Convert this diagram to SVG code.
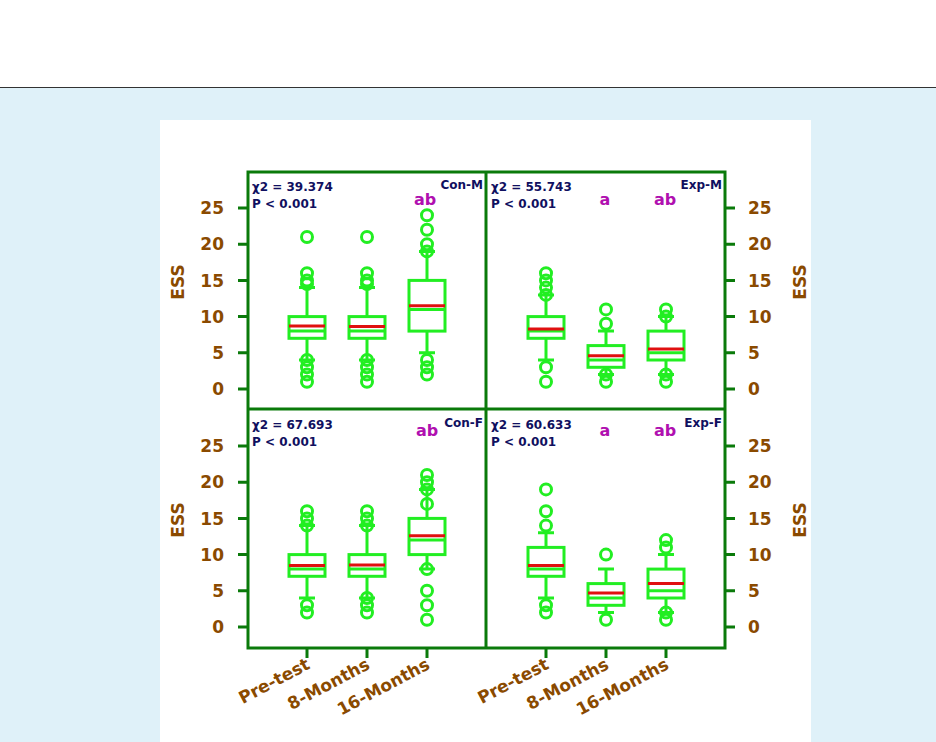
<svg xmlns="http://www.w3.org/2000/svg" width="936" height="742" viewBox="0 0 936 742">
<style>
.fr{fill:none;stroke:#0a7a0a;stroke-width:3}
.bx{fill:none;stroke:#22ee22;stroke-width:3}
.mn{stroke:#e01010;stroke-width:3}
.o{fill:none;stroke:#22ee22;stroke-width:3}
.tk{font-family:"DejaVu Sans",sans-serif;font-weight:bold;font-size:17px;fill:#8a4a00}
.st{font-family:"DejaVu Sans",sans-serif;font-weight:bold;font-size:12px;fill:#101060}
.lt{font-family:"DejaVu Sans",sans-serif;font-weight:bold;font-size:16px;fill:#b010b0}
</style>
<rect width="936" height="742" fill="#fff"/>
<rect y="87" width="936" height="655" fill="#dff1f9"/>
<line x1="0" y1="87.5" x2="936" y2="87.5" stroke="#333" stroke-width="1"/>
<rect x="160" y="120" width="651" height="622" fill="#fff"/>
<g id="frame" class="fr">
<rect x="248" y="172" width="477" height="476"/>
<line x1="486" y1="172" x2="486" y2="648"/><line x1="248" y1="409" x2="725" y2="409"/>
<path d="M238 389H248M238 352.8H248M238 316.6H248M238 280.4H248M238 244.2H248M238 208H248M725 389H735M725 352.8H735M725 316.6H735M725 280.4H735M725 244.2H735M725 208H735M238 627H248M238 590.8H248M238 554.6H248M238 518.4H248M238 482.2H248M238 446H248M725 627H735M725 590.8H735M725 554.6H735M725 518.4H735M725 482.2H735M725 446H735M307 648V658M367 648V658M427 648V658M546 648V658M606 648V658M666 648V658"/>
</g>
<g id="axes">
<g class="tk" text-anchor="end"><text x="224" y="395">0</text><text x="224" y="359">5</text><text x="224" y="323">10</text><text x="224" y="287">15</text><text x="224" y="250">20</text><text x="224" y="214">25</text><text x="224" y="633">0</text><text x="224" y="597">5</text><text x="224" y="561">10</text><text x="224" y="525">15</text><text x="224" y="488">20</text><text x="224" y="452">25</text></g>
<g class="tk" text-anchor="start"><text x="748" y="395">0</text><text x="748" y="359">5</text><text x="748" y="323">10</text><text x="748" y="287">15</text><text x="748" y="250">20</text><text x="748" y="214">25</text><text x="748" y="633">0</text><text x="748" y="597">5</text><text x="748" y="561">10</text><text x="748" y="525">15</text><text x="748" y="488">20</text><text x="748" y="452">25</text></g>
<g class="tk" text-anchor="middle"><text transform="translate(184,282) rotate(-90)">ESS</text><text transform="translate(184,520) rotate(-90)">ESS</text><text transform="translate(806,282) rotate(-90)">ESS</text><text transform="translate(806,520) rotate(-90)">ESS</text></g>
<g class="tk" text-anchor="end"><text transform="translate(311,668) rotate(-28)">Pre-test</text><text transform="translate(371,668) rotate(-28)">8-Months</text><text transform="translate(431,668) rotate(-28)">16-Months</text><text transform="translate(550,668) rotate(-28)">Pre-test</text><text transform="translate(610,668) rotate(-28)">8-Months</text><text transform="translate(670,668) rotate(-28)">16-Months</text></g>
</g>
<g id="labels">
<text class="st" x="252" y="191">χ2 = 39.374</text><text class="st" x="252" y="208">P &lt; 0.001</text><text class="st" x="483" y="189" text-anchor="end">Con-M</text><text class="lt" x="425" y="205" text-anchor="middle">ab</text>
<text class="st" x="491" y="191">χ2 = 55.743</text><text class="st" x="491" y="208">P &lt; 0.001</text><text class="st" x="722" y="189" text-anchor="end">Exp-M</text><text class="lt" x="605" y="205" text-anchor="middle">a</text><text class="lt" x="665" y="205" text-anchor="middle">ab</text>
<text class="st" x="252" y="429">χ2 = 67.693</text><text class="st" x="252" y="446">P &lt; 0.001</text><text class="st" x="483" y="427" text-anchor="end">Con-F</text><text class="lt" x="427" y="436" text-anchor="middle">ab</text>
<text class="st" x="491" y="429">χ2 = 60.633</text><text class="st" x="491" y="446">P &lt; 0.001</text><text class="st" x="722" y="427" text-anchor="end">Exp-F</text><text class="lt" x="605" y="436" text-anchor="middle">a</text><text class="lt" x="665" y="436" text-anchor="middle">ab</text>
</g>
<g id="boxes">
<g id="conm">
<path class="bx" d="M307 360V338.3M307 316.6V287.6M299 360H315M299 287.6H315M367 360V338.3M367 316.6V287.6M359 360H375M359 287.6H375M427 352.8V331.1M427 280.4V251.4M419 352.8H435M419 251.4H435"/>
<rect class="bx" x="289" y="316.6" width="36" height="21.7"/><line class="bx" x1="289" x2="325" y1="331.1" y2="331.1"/><line class="mn" x1="289" x2="325" y1="326" y2="326"/>
<rect class="bx" x="349" y="316.6" width="36" height="21.7"/><line class="bx" x1="349" x2="385" y1="331.1" y2="331.1"/><line class="mn" x1="349" x2="385" y1="326.5" y2="326.5"/>
<rect class="bx" x="409" y="280.4" width="36" height="50.7"/><line class="bx" x1="409" x2="445" y1="309.4" y2="309.4"/><line class="mn" x1="409" x2="445" y1="305.7" y2="305.7"/>
<g class="o"><circle cx="307" cy="237" r="5.5"/><circle cx="307" cy="273.2" r="5.5"/><circle cx="307" cy="280.4" r="5.5"/><circle cx="307" cy="284" r="5.5"/><circle cx="307" cy="360" r="5.5"/><circle cx="307" cy="367.3" r="5.5"/><circle cx="307" cy="374.5" r="5.5"/><circle cx="307" cy="381.8" r="5.5"/>
<circle cx="367" cy="237" r="5.5"/><circle cx="367" cy="273.2" r="5.5"/><circle cx="367" cy="280.4" r="5.5"/><circle cx="367" cy="284" r="5.5"/><circle cx="367" cy="360" r="5.5"/><circle cx="367" cy="367.3" r="5.5"/><circle cx="367" cy="374.5" r="5.5"/><circle cx="367" cy="381.8" r="5.5"/>
<circle cx="427" cy="215.2" r="5.5"/><circle cx="427" cy="229.7" r="5.5"/><circle cx="427" cy="244.2" r="5.5"/><circle cx="427" cy="251.4" r="5.5"/><circle cx="427" cy="360" r="5.5"/><circle cx="427" cy="367.3" r="5.5"/><circle cx="427" cy="374.5" r="5.5"/></g>
</g>
<g id="expm">
<path class="bx" d="M546 360V338.3M546 316.6V294.9M538 360H554M538 294.9H554M606 374.5V367.3M606 345.6V331.1M598 374.5H614M598 331.1H614M666 374.5V360M666 331.1V316.6M658 374.5H674M658 316.6H674"/>
<rect class="bx" x="528" y="316.6" width="36" height="21.7"/><line class="bx" x1="528" x2="564" y1="331.1" y2="331.1"/><line class="mn" x1="528" x2="564" y1="329" y2="329"/>
<rect class="bx" x="588" y="345.6" width="36" height="21.7"/><line class="bx" x1="588" x2="624" y1="360" y2="360"/><line class="mn" x1="588" x2="624" y1="355.7" y2="355.7"/>
<rect class="bx" x="648" y="331.1" width="36" height="28.9"/><line class="bx" x1="648" x2="684" y1="352.8" y2="352.8"/><line class="mn" x1="648" x2="684" y1="349" y2="349"/>
<g class="o"><circle cx="546" cy="273.2" r="5.5"/><circle cx="546" cy="280.4" r="5.5"/><circle cx="546" cy="287.6" r="5.5"/><circle cx="546" cy="294.9" r="5.5"/><circle cx="546" cy="367.3" r="5.5"/><circle cx="546" cy="381.8" r="5.5"/>
<circle cx="606" cy="309.4" r="5.5"/><circle cx="606" cy="323.8" r="5.5"/><circle cx="606" cy="374.5" r="5.5"/><circle cx="606" cy="381.8" r="5.5"/>
<circle cx="666" cy="309.4" r="5.5"/><circle cx="666" cy="316.6" r="5.5"/><circle cx="666" cy="374.5" r="5.5"/><circle cx="666" cy="381.8" r="5.5"/></g>
</g>
<g id="conf">
<path class="bx" d="M307 598V576.3M307 554.6V525.6M299 598H315M299 525.6H315M367 598V576.3M367 554.6V525.6M359 598H375M359 525.6H375M427 569.1V554.6M427 518.4V489.4M419 569.1H435M419 489.4H435"/>
<rect class="bx" x="289" y="554.6" width="36" height="21.7"/><line class="bx" x1="289" x2="325" y1="569.1" y2="569.1"/><line class="mn" x1="289" x2="325" y1="565.5" y2="565.5"/>
<rect class="bx" x="349" y="554.6" width="36" height="21.7"/><line class="bx" x1="349" x2="385" y1="569.1" y2="569.1"/><line class="mn" x1="349" x2="385" y1="565" y2="565"/>
<rect class="bx" x="409" y="518.4" width="36" height="36.2"/><line class="bx" x1="409" x2="445" y1="540.1" y2="540.1"/><line class="mn" x1="409" x2="445" y1="535.8" y2="535.8"/>
<g class="o"><circle cx="307" cy="511.2" r="5.5"/><circle cx="307" cy="518.4" r="5.5"/><circle cx="307" cy="525.6" r="5.5"/><circle cx="307" cy="605.3" r="5.5"/><circle cx="307" cy="612.5" r="5.5"/>
<circle cx="367" cy="511.2" r="5.5"/><circle cx="367" cy="518.4" r="5.5"/><circle cx="367" cy="525.6" r="5.5"/><circle cx="367" cy="598" r="5.5"/><circle cx="367" cy="605.3" r="5.5"/><circle cx="367" cy="612.5" r="5.5"/>
<circle cx="427" cy="475" r="5.5"/><circle cx="427" cy="482.2" r="5.5"/><circle cx="427" cy="489.4" r="5.5"/><circle cx="427" cy="503.9" r="5.5"/><circle cx="427" cy="569.1" r="5.5"/><circle cx="427" cy="590.8" r="5.5"/><circle cx="427" cy="605.3" r="5.5"/><circle cx="427" cy="619.8" r="5.5"/></g>
</g>
<g id="expf">
<path class="bx" d="M546 598V576.3M546 547.4V532.8M538 598H554M538 532.8H554M606 612.5V605.3M606 583.6V569.1M598 612.5H614M598 569.1H614M666 612.5V598M666 569.1V554.6M658 612.5H674M658 554.6H674"/>
<rect class="bx" x="528" y="547.4" width="36" height="28.9"/><line class="bx" x1="528" x2="564" y1="569.1" y2="569.1"/><line class="mn" x1="528" x2="564" y1="565.5" y2="565.5"/>
<rect class="bx" x="588" y="583.6" width="36" height="21.7"/><line class="bx" x1="588" x2="624" y1="598" y2="598"/><line class="mn" x1="588" x2="624" y1="593" y2="593"/>
<rect class="bx" x="648" y="569.1" width="36" height="28.9"/><line class="bx" x1="648" x2="684" y1="590.8" y2="590.8"/><line class="mn" x1="648" x2="684" y1="583.6" y2="583.6"/>
<g class="o"><circle cx="546" cy="489.4" r="5.5"/><circle cx="546" cy="511.2" r="5.5"/><circle cx="546" cy="525.6" r="5.5"/><circle cx="546" cy="605.3" r="5.5"/><circle cx="546" cy="612.5" r="5.5"/>
<circle cx="606" cy="554.6" r="5.5"/><circle cx="606" cy="619.8" r="5.5"/>
<circle cx="666" cy="540.1" r="5.5"/><circle cx="666" cy="547.4" r="5.5"/><circle cx="666" cy="612.5" r="5.5"/><circle cx="666" cy="619.8" r="5.5"/></g>
</g>
</g>
</svg>
